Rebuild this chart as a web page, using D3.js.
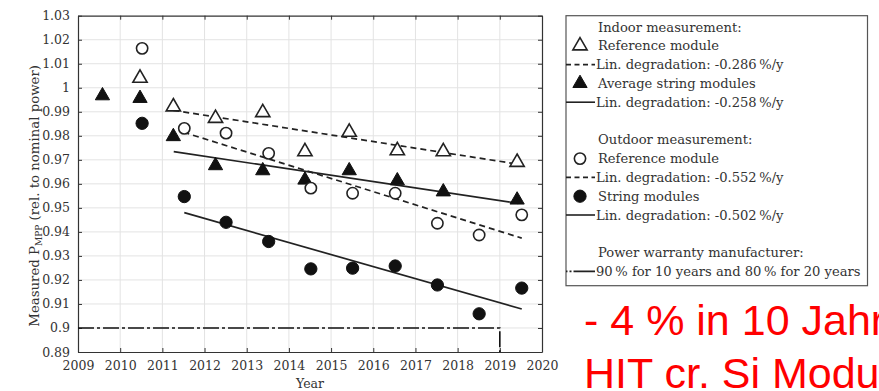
<!DOCTYPE html>
<html>
<head>
<meta charset="utf-8">
<script src="https://cdn.jsdelivr.net/npm/d3@7"></script>
<style>
  html, body { margin: 0; padding: 0; background: #fff; overflow: hidden; }
  svg { display: block; }
</style>
</head>
<body>
<svg id="chart" width="879" height="391"></svg>
<script>
// Indoor measurement
const indoorYears = [2010.47, 2011.26, 2012.26, 2013.38, 2014.38, 2015.43, 2016.57, 2017.66, 2019.41];
const indoorRefValues = [1.004, 0.9921, 0.9873, 0.9897, 0.9734, 0.9815, 0.9738, 0.9734, 0.969];
const indoorStringYears = [2009.58, 2010.47, 2011.26, 2012.26, 2013.38, 2014.38, 2015.43, 2016.57, 2017.66, 2019.41];
const indoorStringValues = [0.9967, 0.9956, 0.9797, 0.9676, 0.9655, 0.9616, 0.9655, 0.9613, 0.9567, 0.9533];

// Outdoor measurement
const outdoorYears = [2010.52, 2011.52, 2012.51, 2013.52, 2014.52, 2015.51, 2016.52, 2017.52, 2018.51, 2019.52];
const outdoorRefValues = [1.0164, 0.9831, 0.9811, 0.9727, 0.9582, 0.9561, 0.9561, 0.9436, 0.9387, 0.9471];
const outdoorStringValues = [0.9852, 0.9547, 0.944, 0.936, 0.9246, 0.9249, 0.9258, 0.9179, 0.9059, 0.9166];

// Linear degradation fits (start / end)
const indoorRefFitYears = [2011.26, 2019.5];
const indoorRefFitValues = [0.9906, 0.968];
const indoorStringFitYears = [2011.27, 2019.44];
const indoorStringFitValues = [0.9734, 0.9519];
const outdoorRefFitYears = [2011.5, 2019.52];
const outdoorRefFitValues = [0.9815, 0.9374];
const outdoorStringFitYears = [2011.52, 2019.52];
const outdoorStringFitValues = [0.948, 0.9079];

// Manufacturer power warranty
const warrantyYears = [2009, 2019, 2019];
const warrantyValues = [0.9, 0.9, 0.8];

// Axis ticks
const xTicks = [2009, 2010, 2011, 2012, 2013, 2014, 2015, 2016, 2017, 2018, 2019, 2020];
const yTicks = [0.89, 0.9, 0.91, 0.92, 0.93, 0.94, 0.95, 0.96, 0.97, 0.98, 0.99, 1, 1.01, 1.02, 1.03];

// Legend rows
const legendRows = [
  { text: "Indoor measurement:", key: null },
  { text: "Reference module", key: "triOpen" },
  { text: "Lin. degradation: -0.286\u2009%/y", key: "dash" },
  { text: "Average string modules", key: "triFilled" },
  { text: "Lin. degradation: -0.258\u2009%/y", key: "solid" },
  { text: "", key: null },
  { text: "Outdoor measurement:", key: null },
  { text: "Reference module", key: "circOpen" },
  { text: "Lin. degradation: -0.552\u2009%/y", key: "dash" },
  { text: "String modules", key: "circFilled" },
  { text: "Lin. degradation: -0.502\u2009%/y", key: "solid" },
  { text: "", key: null },
  { text: "Power warranty manufacturer:", key: null },
  { text: "90\u2009% for 10 years and 80\u2009% for 20 years", key: "dashdot" }
];

const annotationLines = ["- 4 % in 10 Jahr", "HIT cr. Si Modu"];

const serif = "'DejaVu Serif', serif";
const ink = "#222";
const svg = d3.select("#chart");

const m = { left: 78, right: 542, top: 15.7, bottom: 352 };
const x = d3.scaleLinear().domain([2009, 2020]).range([m.left, m.right]);
const y = d3.scaleLinear().domain([0.89, 1.03]).range([m.bottom, m.top]);

// grid
const grid = svg.append("g");
grid.selectAll(".gx").data(xTicks.slice(1, -1)).join("line")
  .attr("x1", d => x(d)).attr("x2", d => x(d))
  .attr("y1", m.top).attr("y2", m.bottom)
  .attr("stroke", "#e3e3e3").attr("stroke-width", 1);
grid.selectAll(".gy").data(yTicks.slice(1, -1)).join("line")
  .attr("y1", d => y(d)).attr("y2", d => y(d))
  .attr("x1", m.left).attr("x2", m.right)
  .attr("stroke", "#e3e3e3").attr("stroke-width", 1);

// axes with inward ticks on all four sides
function styleAxis(g) {
  g.selectAll("path").attr("stroke", "#333").attr("stroke-width", 1.2);
  g.selectAll("line").attr("stroke", "#333");
  g.selectAll("text").attr("font-family", serif).attr("font-size", 12.5).attr("fill", "#333");
}
svg.append("g").attr("transform", `translate(0,${m.bottom})`)
  .call(d3.axisBottom(x).tickValues(xTicks).tickFormat(d3.format("d")).tickSizeInner(-4).tickSizeOuter(0).tickPadding(9))
  .call(styleAxis);
svg.append("g").attr("transform", `translate(0,${m.top})`)
  .call(d3.axisTop(x).tickValues(xTicks).tickFormat("").tickSizeInner(-4).tickSizeOuter(0))
  .call(styleAxis);
svg.append("g").attr("transform", `translate(${m.left},0)`)
  .call(d3.axisLeft(y).tickValues(yTicks).tickFormat(d => d === 1 ? "1" : d3.format(".2f")(d).replace(/0$/, "")).tickSizeInner(-4).tickSizeOuter(0).tickPadding(8))
  .call(styleAxis);
svg.append("g").attr("transform", `translate(${m.right},0)`)
  .call(d3.axisRight(y).tickValues(yTicks).tickFormat("").tickSizeInner(-4).tickSizeOuter(0))
  .call(styleAxis);

// axis titles
svg.append("text").attr("x", (m.left + m.right) / 2).attr("y", 388)
  .attr("text-anchor", "middle").attr("font-family", serif).attr("font-size", 12.5).attr("fill", "#333")
  .text("Year");
const yl = svg.append("text").attr("transform", `translate(39,${(m.top + m.bottom) / 2 + 12}) rotate(-90)`)
  .attr("text-anchor", "middle").attr("font-family", serif).attr("font-size", 13.3).attr("fill", "#333");
yl.append("tspan").text("Measured P");
yl.append("tspan").attr("font-size", 9).attr("dy", 3).text("MPP");
yl.append("tspan").attr("dy", -3).text(" (rel. to nominal power)");

// clip region for lines
svg.append("clipPath").attr("id", "plotClip").append("rect")
  .attr("x", m.left).attr("y", m.top).attr("width", m.right - m.left).attr("height", m.bottom - m.top);

const line = d3.line().x(d => x(d[0])).y(d => y(d[1]));
const zip = (a, b) => a.map((v, i) => [v, b[i]]);
const lines = svg.append("g").attr("clip-path", "url(#plotClip)");

const dashPattern = "6,4";
const dashDotPattern = "16,3,3,3";

lines.append("path").attr("d", line(zip(warrantyYears, warrantyValues)))
  .attr("fill", "none").attr("stroke", "#111").attr("stroke-width", 1.6).attr("stroke-dasharray", dashDotPattern);
lines.append("path").attr("d", line(zip(indoorRefFitYears, indoorRefFitValues)))
  .attr("fill", "none").attr("stroke", ink).attr("stroke-width", 1.7).attr("stroke-dasharray", dashPattern);
lines.append("path").attr("d", line(zip(indoorStringFitYears, indoorStringFitValues)))
  .attr("fill", "none").attr("stroke", ink).attr("stroke-width", 1.7);
lines.append("path").attr("d", line(zip(outdoorRefFitYears, outdoorRefFitValues)))
  .attr("fill", "none").attr("stroke", ink).attr("stroke-width", 1.7).attr("stroke-dasharray", dashPattern);
lines.append("path").attr("d", line(zip(outdoorStringFitYears, outdoorStringFitValues)))
  .attr("fill", "none").attr("stroke", ink).attr("stroke-width", 1.7);

// markers
const triSym = d3.symbol().type(d3.symbolTriangle).size(88);
const circSym = d3.symbol().type(d3.symbolCircle).size(118);
const styles = {
  triOpen: s => s.attr("d", triSym()).attr("fill", "#fff").attr("stroke", ink).attr("stroke-width", 1.6),
  triFilled: s => s.attr("d", triSym()).attr("fill", "#111").attr("stroke", "#111").attr("stroke-width", 1),
  circOpen: s => s.attr("d", d3.symbol().type(d3.symbolCircle).size(100)()).attr("fill", "#fff").attr("stroke", ink).attr("stroke-width", 1.6),
  circFilled: s => s.attr("d", circSym()).attr("fill", "#111").attr("stroke", "#111").attr("stroke-width", 1)
};
function drawPoints(xs, vs, key) {
  svg.append("g").selectAll("path").data(zip(xs, vs)).join("path")
    .attr("transform", d => `translate(${x(d[0])},${y(d[1])})`)
    .call(styles[key]);
}
drawPoints(indoorYears, indoorRefValues, "triOpen");
drawPoints(indoorStringYears, indoorStringValues, "triFilled");
drawPoints(outdoorYears, outdoorRefValues, "circOpen");
drawPoints(outdoorYears, outdoorStringValues, "circFilled");

// legend
const lg = svg.append("g");
lg.append("rect").attr("x", 566).attr("y", 15.7).attr("width", 301.5).attr("height", 270)
  .attr("fill", "#fff").attr("stroke", "#555").attr("stroke-width", 1.2);
const rowY = d3.scaleLinear().domain([0, 13]).range([27, 271.4]);
const isLineKey = k => k === "dash" || k === "solid" || k === "dashdot";
legendRows.forEach((r, i) => {
  const cy = rowY(i);
  const g = lg.append("g");
  const textX = isLineKey(r.key) ? 596 : 598;
  g.append("text").attr("x", textX).attr("y", cy + 4.5)
    .attr("font-family", serif).attr("font-size", 13.1).attr("fill", "#333").text(r.text);
  if (!r.key) return;
  if (isLineKey(r.key)) {
    const p = g.append("line").attr("x1", 566).attr("x2", 595).attr("y1", cy).attr("y2", cy)
      .attr("stroke", ink).attr("stroke-width", 1.6);
    if (r.key === "dash") p.attr("stroke-dasharray", "5,3.5");
    if (r.key === "dashdot") p.attr("stroke-dasharray", "1.5,2,2,2,22");
  } else {
    g.append("path").attr("transform", `translate(580,${cy})`).call(styles[r.key]);
  }
});

// annotation
const ann = svg.append("g");
annotationLines.forEach((t, i) => {
  ann.append("text").attr("x", 584).attr("y", 335 + i * 53)
    .attr("font-family", "'Liberation Sans', Arial, sans-serif").attr("font-size", 43)
    .attr("fill", "#f00").text(t);
});
</script>
</body>
</html>
